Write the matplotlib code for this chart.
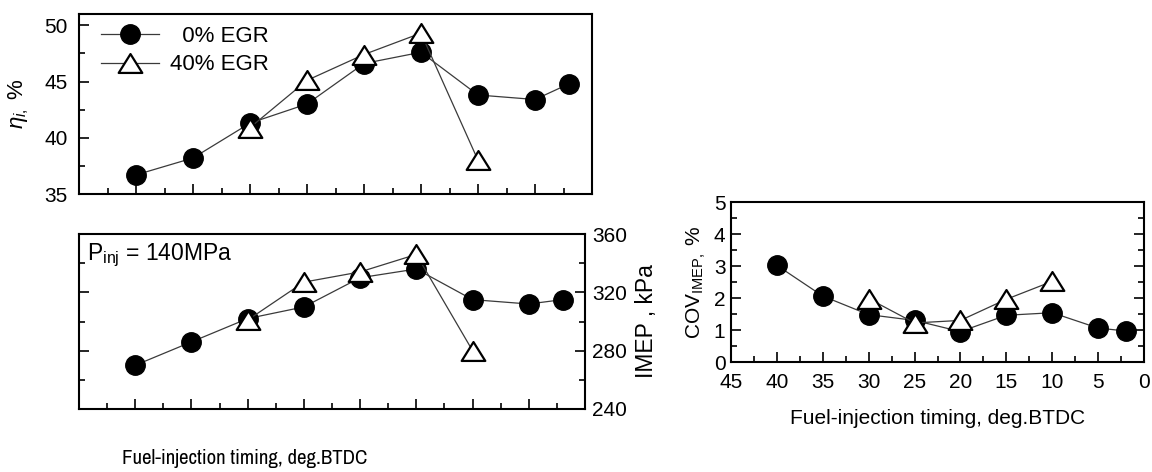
import matplotlib
matplotlib.use("Agg")
import matplotlib.pyplot as plt
from matplotlib import font_manager
from matplotlib.path import Path
from matplotlib.ticker import MultipleLocator

# ---------------- data ----------------
timing_0 = [40, 35, 30, 25, 20, 15, 10, 5, 2]
timing_40 = [30, 25, 20, 15, 10]
eta_0 = [36.7, 38.2, 41.3, 43.0, 46.6, 47.6, 43.8, 43.4, 44.8]
eta_40 = [40.9, 45.1, 47.4, 49.3, 38.0]
imep_0 = [270, 286, 302, 310, 330, 336, 315, 312, 315]
imep_40 = [301, 327, 334, 346, 280]
cov_0 = [3.02, 2.06, 1.48, 1.30, 0.95, 1.46, 1.54, 1.06, 0.97]
cov_40 = [1.98, 1.22, 1.30, 1.96, 2.52]
labels = ["  0% EGR", "40% EGR"]
xlabel = "Fuel-injection timing, deg.BTDC"

plt.rcParams['font.family'] = ['Liberation Sans', 'DejaVu Sans']
plt.rcParams['mathtext.fontset'] = 'custom'
plt.rcParams['mathtext.rm'] = 'Liberation Sans'
plt.rcParams['mathtext.it'] = 'Liberation Sans:italic'

names = {f.name for f in font_manager.fontManager.ttflist}
narrow_fam = None
for cand in ('Liberation Sans Narrow', 'Archivo Narrow'):
    if cand in names:
        narrow_fam = cand
        break

W, H = 1152, 472
fig = plt.figure(figsize=(W / 100, H / 100), dpi=100)


def rect(l, r, t, b):
    return [l / W, 1 - b / H, (r - l) / W, (b - t) / H]


tri = Path([(0, 0.8), (-1, -0.8), (1, -0.8), (0, 0.8)],
           [Path.MOVETO, Path.LINETO, Path.LINETO, Path.CLOSEPOLY])

LC = '#3a3a3a'
circ_kw = dict(color=LC, lw=0.9, marker='o', ms=14, mfc='black', mec='black', zorder=3)
tri_kw = dict(color=LC, lw=0.9, marker=tri, ms=17, mfc='white', mec='black', mew=1.6, zorder=4)


def style(ax, fs):
    for s in ax.spines.values():
        s.set_linewidth(1.5)
    ax.tick_params(which='both', direction='in', width=1.2, labelsize=fs)
    ax.tick_params(which='major', length=7)
    ax.tick_params(which='minor', length=4)


# ---------- top-left: efficiency ----------
ax1 = fig.add_axes(rect(79, 592, 14, 194))
ax1.plot(timing_0, eta_0, label=labels[0], **circ_kw)
ax1.plot(timing_40, eta_40, label=labels[1], **tri_kw)
ax1.set_xlim(45, 0)
ax1.set_ylim(35, 51)
ax1.xaxis.set_major_locator(MultipleLocator(5))
ax1.xaxis.set_minor_locator(MultipleLocator(2.5))
ax1.yaxis.set_major_locator(MultipleLocator(5))
ax1.yaxis.set_minor_locator(MultipleLocator(2.5))
style(ax1, 15)
ax1.tick_params(axis='x', labelbottom=False)
ax1.tick_params(axis='y', pad=8)
ax1.set_ylabel(r'$\eta_{i,}$ %', fontsize=16, labelpad=10)
leg = ax1.legend(loc='upper left', bbox_to_anchor=(0.035, 0.96), frameon=False,
                 fontsize=16, handlelength=2.6, handletextpad=0.5,
                 labelspacing=0.35, borderpad=0.2, borderaxespad=0)

# ---------- bottom-left: IMEP ----------
ax2 = fig.add_axes(rect(79, 585, 234, 409))
ax2.plot(timing_0, imep_0, **circ_kw)
ax2.plot(timing_40, imep_40, **tri_kw)
ax2.set_xlim(45, 0)
ax2.set_ylim(240, 360)
ax2.xaxis.set_major_locator(MultipleLocator(5))
ax2.xaxis.set_minor_locator(MultipleLocator(2.5))
ax2.yaxis.set_major_locator(MultipleLocator(40))
ax2.yaxis.set_minor_locator(MultipleLocator(20))
style(ax2, 15)
ax2.tick_params(axis='x', labelbottom=False)
ax2.tick_params(axis='y', left=True, right=True, labelleft=False, labelright=True, pad=5)
ax2.tick_params(axis='y', which='minor', left=True, right=True)
ax2.yaxis.set_label_position('right')
ax2.set_ylabel('IMEP , kPa', fontsize=16.5, labelpad=6)
ax2.text(0.015, 0.88, r'P$_{\mathrm{inj}}$ = 140MPa', transform=ax2.transAxes,
         fontsize=16.5, ha='left', va='center')
if narrow_fam:
    fig.text(245 / W, 1 - 458 / H, xlabel, family=[narrow_fam, 'Liberation Sans'],
             fontsize=15, ha='center', va='center')
else:
    fig.text(245 / W, 1 - 458 / H, xlabel, fontsize=13, ha='center', va='center')

# ---------- right: COV ----------
ax3 = fig.add_axes(rect(731, 1144, 202, 362))
ax3.plot(timing_0, cov_0, **circ_kw)
ax3.plot(timing_40, cov_40, **tri_kw)
ax3.set_xlim(45, 0)
ax3.set_ylim(0, 5)
ax3.xaxis.set_major_locator(MultipleLocator(5))
ax3.xaxis.set_minor_locator(MultipleLocator(2.5))
ax3.yaxis.set_major_locator(MultipleLocator(1))
ax3.yaxis.set_minor_locator(MultipleLocator(0.5))
style(ax3, 15)
ax3.tick_params(axis='y', which='both', right=True, pad=4)
ax3.tick_params(axis='x', pad=8)
ax3.set_ylabel(r'COV$_{\mathrm{IMEP,}}$ %', fontsize=15, labelpad=4)
ax3.set_xlabel(xlabel, fontsize=15, labelpad=12)

fig.savefig('out.png', dpi=100)
